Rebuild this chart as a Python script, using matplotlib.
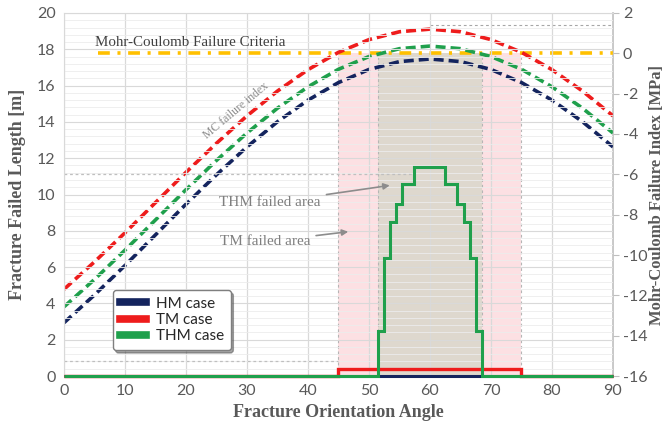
import numpy as np
import matplotlib
matplotlib.use("Agg")
import matplotlib.pyplot as plt
from matplotlib.lines import Line2D
from matplotlib.ticker import MultipleLocator

plt.rcParams["axes.unicode_minus"] = False
plt.rcParams["lines.scale_dashes"] = False

# ---------------- data ----------------
angles = [0, 5, 10, 15, 20, 25, 30, 35, 40, 45, 50, 55, 60, 65, 70, 75, 80, 85, 90]
# Mohr-Coulomb failure index [MPa] (right axis)
mc_hm = [-13.36, -11.98, -10.52, -9.00, -7.48, -6.02, -4.64, -3.39, -2.32, -1.45,
         -0.80, -0.41, -0.28, -0.41, -0.80, -1.45, -2.32, -3.39, -4.64]
mc_tm = [-11.70, -10.34, -8.90, -7.40, -5.90, -4.46, -3.10, -1.87, -0.81, 0.05,
         0.68, 1.07, 1.20, 1.07, 0.68, 0.05, -0.81, -1.87, -3.10]
mc_thm = [-12.57, -11.21, -9.76, -8.26, -6.76, -5.31, -3.95, -2.72, -1.66, -0.79,
          -0.16, 0.23, 0.36, 0.23, -0.16, -0.79, -1.66, -2.72, -3.95]

# failed length [m] (left axis) as steps
hm_edges = [0, 90]
hm_len = [0]
tm_edges = [0, 45, 75, 90]
tm_len = [0, 0.4, 0]
thm_edges = [0, 51.4, 52.5, 53.5, 54.4, 55.4, 57.4, 62.5, 64.5, 65.6, 66.6, 67.5, 68.6, 90]
thm_len = [0, 2.5, 6.5, 8.5, 9.5, 10.6, 11.5, 10.6, 9.5, 8.5, 6.5, 2.5, 0]

tm_area = [45, 75]
thm_area = [51.5, 68.5]
criteria = 0.0

labels = ["HM case", "TM case", "THM case"]
colors = ["#14245E", "#EE1C1C", "#1FA04C"]

# ---------------- figure ----------------
fig = plt.figure(figsize=(6.65, 4.33), dpi=100)
ax = fig.add_axes([0.0962, 0.1316, 0.8256, 0.8384])
ax2 = ax.twinx()
ax.set_zorder(ax2.get_zorder() + 1)
ax.patch.set_visible(False)

gray_txt = "#595959"
sans = "Lato"
serif = "Liberation Serif"

ax.set_xlim(0, 90)
ax.set_ylim(0, 20)
ax2.set_ylim(-16, 2)
ax.xaxis.set_major_locator(MultipleLocator(10))
ax.yaxis.set_major_locator(MultipleLocator(2))
ax.yaxis.set_minor_locator(MultipleLocator(0.4))
ax2.yaxis.set_major_locator(MultipleLocator(2))

# grid
ax2.grid(False)
ax.grid(which="major", axis="x", color="#D9D9D9", lw=0.9)
ax.grid(which="major", axis="y", color="#D9D9D9", lw=0.8)
ax.grid(which="minor", axis="y", color="#ECECEC", lw=0.6)
ax.set_axisbelow(True)

# shaded areas on right axis
ax2.fill_between(tm_area, -16, criteria, color="#FCDDE0", alpha=0.9, lw=0, zorder=0)
ax2.fill_between(thm_area, -16, criteria, color="#DDD8CD", alpha=0.95, lw=0, zorder=0.5)
for xv in tm_area + thm_area:
    ax2.plot([xv, xv], [-16, criteria], color="#B5B5B5", lw=0.8, ls=(0, (2, 2)), zorder=1)

# dotted helper lines
ax.plot([0, 45], [0.8, 0.8], color="#BFBFBF", lw=0.9, ls=(0, (2, 2)), zorder=1)
ax.plot([0, 57.4], [11.15, 11.15], color="#BFBFBF", lw=0.9, ls=(0, (2, 2)), zorder=1)
ax2.plot([60, 90], [1.42, 1.42], color="#A6A6A6", lw=0.8, ls=(0, (2, 2)), zorder=1)

# failure criteria line
ax2.plot([5.5, 90], [criteria, criteria], color="#FFC000", lw=2.6,
         dashes=(8.5, 5.5, 2.2, 5.5), zorder=3)

# MC index curves
for vals, c in zip([mc_hm, mc_tm, mc_thm], colors):
    ax2.plot(angles, vals, color=c, lw=2.6, dashes=(7.2, 3.6), zorder=4)

# failed length steps
ax.stairs(hm_len, hm_edges, color=colors[0], lw=2.2, baseline=None, zorder=5, clip_on=False)
ax.stairs(tm_len, tm_edges, color=colors[1], lw=2.4, baseline=None, zorder=6, clip_on=False)
ax.stairs(thm_len, thm_edges, color=colors[2], lw=2.2, baseline=None, zorder=7, clip_on=False)

# spines / ticks
for sp in ["left", "top", "bottom"]:
    ax.spines[sp].set_color("#D9D9D9")
for sp in ["left", "top", "bottom"]:
    ax2.spines[sp].set_visible(False)
ax.spines["right"].set_visible(False)
ax2.spines["right"].set_color("#BFBFBF")
ax2.spines["right"].set_linewidth(1.2)

ax.tick_params(axis="both", which="both", length=0, labelcolor=gray_txt, pad=6)
ax2.tick_params(axis="y", which="major", length=4, color="#BFBFBF", labelcolor=gray_txt, pad=3)
for lab in ax.get_xticklabels() + ax.get_yticklabels() + ax2.get_yticklabels():
    lab.set_fontfamily(sans)
    lab.set_fontsize(11.5)

ax.set_xlabel("Fracture Orientation Angle", family=serif, weight="bold",
              size=13, color=gray_txt, labelpad=4)
ax.set_ylabel("Fracture Failed Length [m]", family=serif, weight="bold",
              size=13, color=gray_txt, labelpad=8)
ax2.set_ylabel("Mohr-Coulomb Failure Index [MPa]", family=serif, weight="bold",
               size=12, color=gray_txt, labelpad=1)

# texts
ax.text(20.7, 18.35, "Mohr-Coulomb Failure Criteria", family=serif, size=10.8,
        color="#404040", ha="center", va="center", zorder=8)
ax.text(28.2, 14.6, "MC failure index", family=serif, size=8.5, color="#8C8C8C",
        rotation=40, ha="center", va="center", zorder=8)
ax.annotate("THM failed area", xy=(53.4, 10.5), xytext=(33.8, 9.55),
            family=serif, size=11, color="#7F7F7F", ha="center", va="center",
            arrowprops=dict(arrowstyle="-|>", color="#8C8C8C", lw=1.2,
                            mutation_scale=9, shrinkA=2, shrinkB=0), zorder=8)
ax.annotate("TM failed area", xy=(46.6, 7.95), xytext=(33.0, 7.4),
            family=serif, size=11, color="#7F7F7F", ha="center", va="center",
            arrowprops=dict(arrowstyle="-|>", color="#8C8C8C", lw=1.2,
                            mutation_scale=9, shrinkA=2, shrinkB=0), zorder=8)

# legend
handles = [Line2D([0], [0], color=c, lw=5.5) for c in colors]
leg = ax.legend(handles, labels, loc="lower left", bbox_to_anchor=(0.075, 0.05),
                prop=dict(family=sans, size=11), fancybox=True, shadow=True,
                framealpha=1, edgecolor="#7F7F7F", handlelength=1.75,
                handletextpad=0.6, borderpad=0.45, labelspacing=0.15)
for t in leg.get_texts():
    t.set_color("#262626")
leg.set_zorder(20)

fig.savefig("out.png", dpi=100)
